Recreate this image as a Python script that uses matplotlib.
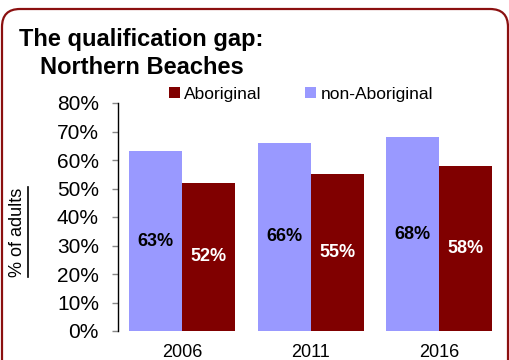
# -*- coding: utf-8 -*-
import numpy as np
import matplotlib.pyplot as plt
from matplotlib.patches import FancyBboxPatch
from matplotlib.lines import Line2D

plt.rcParams['font.family'] = 'Liberation Sans'

years = ['2006', '2011', '2016']
non_aboriginal = [63, 66, 68]
aboriginal = [52, 55, 58]
y_ticks = [0, 10, 20, 30, 40, 50, 60, 70, 80]

light = '#9999ff'
dark = '#800000'


def qualificationGap():
    fig = plt.figure(figsize=(5.1, 3.6), dpi=100)
    ax = fig.add_axes([118 / 510, 29 / 360, 385.5 / 510, 228 / 360])

    x = np.arange(len(years))
    w = 0.4125
    ax.bar(x - w / 2, non_aboriginal, w, color=light, label='non-Aboriginal')
    ax.bar(x + w / 2, aboriginal, w, color=dark, label='Aboriginal')

    # percentages written in the middle of each bar
    for i in range(len(years)):
        ax.text(x[i] - w / 2, non_aboriginal[i] / 2, str(non_aboriginal[i]) + '%',
                ha='center', va='center', fontsize=13, fontweight='bold', color='black')
        ax.text(x[i] + w / 2, aboriginal[i] / 2, str(aboriginal[i]) + '%',
                ha='center', va='center', fontsize=13, fontweight='bold', color='white')

    ax.set_xlim(-0.5, 2.5)
    ax.set_ylim(0, 80)
    ax.set_xticks(x)
    ax.set_xticklabels(years, fontsize=13)
    ax.set_yticks(y_ticks)
    ax.set_yticklabels([str(t) + '%' for t in y_ticks], fontsize=15)
    ax.tick_params(axis='x', length=0, pad=9.5)
    ax.tick_params(axis='y', length=4.3, width=1, color='#888888', pad=9.4)
    for s in ['top', 'right', 'bottom']:
        ax.spines[s].set_visible(False)
    ax.spines['left'].set_linewidth(1)

    fig.text(141.5 / 510, 1 - 46 / 360, 'The qualification gap:', ha='center',
             va='baseline', fontsize=17, fontweight='bold')
    fig.text(141.5 / 510, 1 - 74 / 360, 'Northern Beaches', ha='center',
             va='baseline', fontsize=17, fontweight='bold')

    handles, labels = ax.get_legend_handles_labels()
    fig.legend(handles[::-1], labels[::-1], ncol=2, loc='center left',
               bbox_to_anchor=(169 / 510, 1 - 94 / 360), frameon=False,
               fontsize=12.5, handlelength=0.63, handleheight=0.63,
               handletextpad=0.25, columnspacing=2.5, borderpad=0,
               borderaxespad=0)

    ylab = fig.text(18 / 510, 1 - 232 / 360, '% of adults', rotation=90,
                    ha='center', va='center', fontsize=13)

    # underline the rotated axis label
    fig.canvas.draw()
    bb = ylab.get_window_extent()
    fig.add_artist(Line2D([bb.x1 + 1, bb.x1 + 1], [bb.y0, bb.y1], color='black',
                          linewidth=1.2, transform=None))

    # rounded frame round the whole chart
    fig.add_artist(FancyBboxPatch((2, -20), 506, 371,
                                  boxstyle='round,pad=0,rounding_size=18',
                                  facecolor='none', edgecolor='#8b1010',
                                  linewidth=1.6, transform=None))

    fig.savefig('out.png', dpi=100)


qualificationGap()
